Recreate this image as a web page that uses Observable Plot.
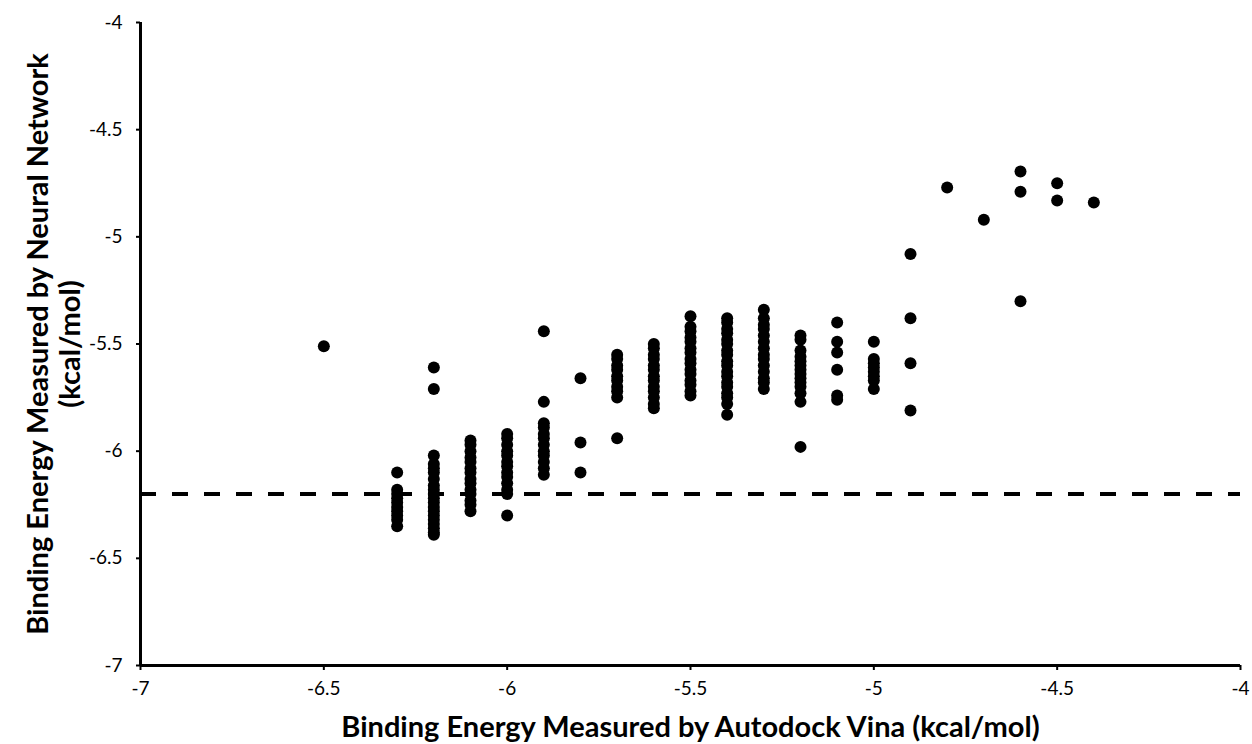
<!DOCTYPE html>
<html>
<head>
<meta charset="utf-8">
<script src="https://cdn.jsdelivr.net/npm/d3@7"></script>
<script src="https://cdn.jsdelivr.net/npm/@observablehq/plot@0.6"></script>
<style>
  html, body { margin: 0; padding: 0; background: #fff; }
  #chart { width: 1252px; height: 744px; }
</style>
</head>
<body>
<div id="chart"></div>
<script>
// Vina binding energy (x) columns and neural-network estimates (y) for each column
const vinaX = [-6.5, -6.3, -6.2, -6.1, -6.0, -5.9, -5.8, -5.7, -5.6, -5.5, -5.4, -5.3, -5.2, -5.1, -5.0, -4.9, -4.8, -4.7, -4.6, -4.5, -4.4];
const nnY = [
  [-5.51],
  [-6.10, -6.18, -6.20, -6.22, -6.24, -6.26, -6.28, -6.30, -6.32, -6.35],
  [-5.61, -5.71, -6.02, -6.06, -6.08, -6.10, -6.13, -6.16, -6.18, -6.20, -6.22, -6.24, -6.26, -6.28, -6.30, -6.32, -6.34, -6.36, -6.38, -6.39],
  [-5.95, -5.97, -6.00, -6.03, -6.05, -6.08, -6.10, -6.13, -6.15, -6.18, -6.20, -6.23, -6.25, -6.28],
  [-5.92, -5.94, -5.97, -6.00, -6.02, -6.05, -6.07, -6.10, -6.12, -6.15, -6.18, -6.20, -6.30],
  [-5.44, -5.77, -5.87, -5.89, -5.92, -5.94, -5.97, -6.00, -6.02, -6.05, -6.08, -6.11],
  [-5.66, -5.96, -6.10],
  [-5.55, -5.57, -5.60, -5.62, -5.65, -5.67, -5.70, -5.72, -5.75, -5.94],
  [-5.50, -5.52, -5.55, -5.57, -5.60, -5.62, -5.65, -5.67, -5.70, -5.72, -5.75, -5.78, -5.80],
  [-5.37, -5.42, -5.44, -5.47, -5.49, -5.52, -5.54, -5.57, -5.59, -5.62, -5.64, -5.67, -5.69, -5.72, -5.74],
  [-5.38, -5.40, -5.43, -5.45, -5.48, -5.50, -5.53, -5.55, -5.58, -5.60, -5.63, -5.65, -5.68, -5.70, -5.73, -5.75, -5.78, -5.83],
  [-5.34, -5.38, -5.41, -5.43, -5.46, -5.49, -5.52, -5.55, -5.57, -5.60, -5.63, -5.66, -5.68, -5.71],
  [-5.46, -5.48, -5.53, -5.56, -5.58, -5.60, -5.62, -5.64, -5.66, -5.68, -5.70, -5.73, -5.77, -5.98],
  [-5.40, -5.49, -5.54, -5.62, -5.74, -5.76],
  [-5.49, -5.57, -5.59, -5.61, -5.63, -5.65, -5.67, -5.71],
  [-5.08, -5.38, -5.59, -5.81],
  [-4.77],
  [-4.92],
  [-4.695, -4.79, -5.30],
  [-4.75, -4.83],
  [-4.84]
];
const threshold = -6.2;
const tickValues = [-7, -6.5, -6, -5.5, -5, -4.5, -4];
const xTitle = "Binding Energy Measured by Autodock Vina (kcal/mol)";
const yTitle1 = "Binding Energy Measured by Neural Network";
const yTitle2 = "(kcal/mol)";

const points = [];
vinaX.forEach((x, i) => nnY[i].forEach(y => points.push({x, y})));

const chart = Plot.plot({
  width: 1252,
  height: 744,
  marginLeft: 140,
  marginRight: 12,
  marginTop: 22,
  marginBottom: 79,
  style: { fontFamily: "Lato, 'Open Sans', sans-serif", background: "#fff", color: "#000" },
  x: { domain: [-7, -4] },
  y: { domain: [-7, -4] },
  marks: [
    Plot.ruleY([threshold], { stroke: "#000", strokeWidth: 4, strokeDasharray: "16,16" }),
    Plot.dot(points, { x: "x", y: "y", r: 6, fill: "#000", stroke: "none" }),
    Plot.ruleX([-7], { stroke: "#000", strokeWidth: 3 }),
    Plot.ruleY([-7], { stroke: "#000", strokeWidth: 3 }),
    Plot.axisX({ ticks: tickValues, tickFormat: d => String(d), tickSize: 5, tickPadding: 11, fontSize: 19, strokeWidth: 2, label: null, fill: "#000" }),
    Plot.axisY({ ticks: tickValues, tickFormat: d => String(d), tickSize: 4, tickPadding: 14, fontSize: 19, strokeWidth: 2, label: null, fill: "#000" }),
    Plot.text([xTitle], { frameAnchor: "bottom", lineAnchor: "middle", dy: 62, fontSize: 29, fontWeight: "bold", fill: "#000" }),
    Plot.text([yTitle1], { frameAnchor: "left", textAnchor: "middle", lineAnchor: "middle", rotate: -90, dx: -102, fontSize: 29, fontWeight: "bold", fill: "#000" }),
    Plot.text([yTitle2], { frameAnchor: "left", textAnchor: "middle", lineAnchor: "middle", rotate: -90, dx: -70, fontSize: 29, fontWeight: "bold", fill: "#000" })
  ]
});
document.getElementById("chart").appendChild(chart);
</script>
</body>
</html>
